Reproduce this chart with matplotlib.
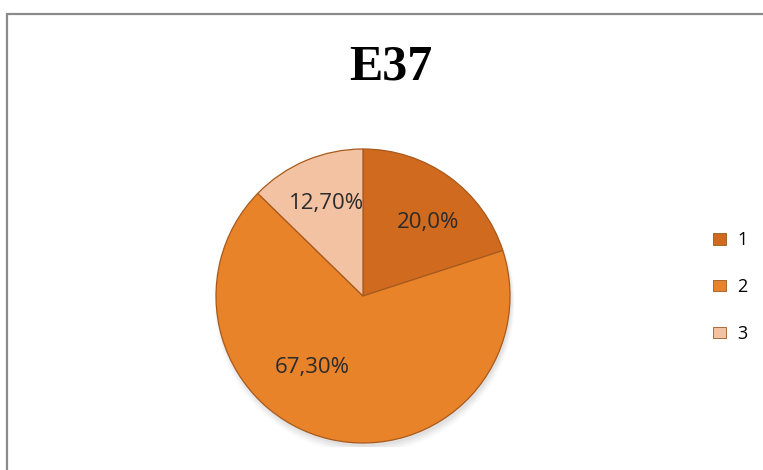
import numpy as np
import matplotlib
matplotlib.use("Agg")
import matplotlib.pyplot as plt
from matplotlib.patches import Rectangle, Patch

title = "E37"
categories = ["1", "2", "3"]
values = [20.0, 67.30, 12.70]
value_labels = ["20,0%", "67,30%", "12,70%"]
colors = ["#CF6A1E", "#E8832A", "#F2C2A2"]

W, H = 763, 470
fig = plt.figure(figsize=(W / 100, H / 100), dpi=100)
fig.patch.set_facecolor("white")

# outer chart border
fig.add_artist(Rectangle((7 / W, -0.1), 1.2, (H - 14) / H + 0.1,
                         transform=fig.transFigure, fill=False,
                         edgecolor="#8a8a8a", linewidth=1.6))

# pie axes: center (363, 296 from top), radius ~147 px
R = 147
cx, cy = 363, H - 296
lim = 1.03
half = R * lim
ax = fig.add_axes([(cx - half) / W, (cy - half) / H, 2 * half / W, 2 * half / H])

# soft shadow
for i, a in enumerate(np.linspace(0.06, 0.015, 5)):
    ax.add_patch(plt.Circle((0.01, -0.025 - 0.006 * i), 1.0 + 0.006 * i,
                            color="#606060", alpha=a, zorder=0, lw=0))

wedges, _ = ax.pie(values, colors=colors, startangle=90, counterclock=False,
                   radius=1.0, wedgeprops=dict(edgecolor="#A85A1C", linewidth=0.9))
for w in wedges:
    w.set_zorder(2)

ax.set_xlim(-lim, lim)
ax.set_ylim(-lim, lim)
ax.set_aspect("equal")
ax.axis("off")

# label placements (fraction of radius, angle offset from mid in degrees)
label_pos = [(0.67, 5.3), (0.60, 22.2), (0.68, 1.2)]
for w, txt, (r, da) in zip(wedges, value_labels, label_pos):
    mid = np.deg2rad((w.theta1 + w.theta2) / 2 - da)
    ax.text(r * np.cos(mid), r * np.sin(mid), txt, ha="center", va="center",
            fontsize=16, color="#2b2b2b", family="Open Sans", zorder=3)

fig.text(391 / W, 1 - 68 / H, title, ha="center", va="center",
         fontsize=36, fontweight="bold", family="Liberation Serif")

handles = [Patch(facecolor=c, edgecolor="#9a5a20", linewidth=0.6) for c in colors]
leg = fig.legend(handles, categories, loc="center left",
                 bbox_to_anchor=(697 / W, 1 - 287 / H), frameon=False,
                 handlelength=0.72, handleheight=0.62,
                 handletextpad=0.6, labelspacing=1.6,
                 prop={"family": "Open Sans", "size": 13})

fig.savefig("out.png", dpi=100, facecolor="white")
